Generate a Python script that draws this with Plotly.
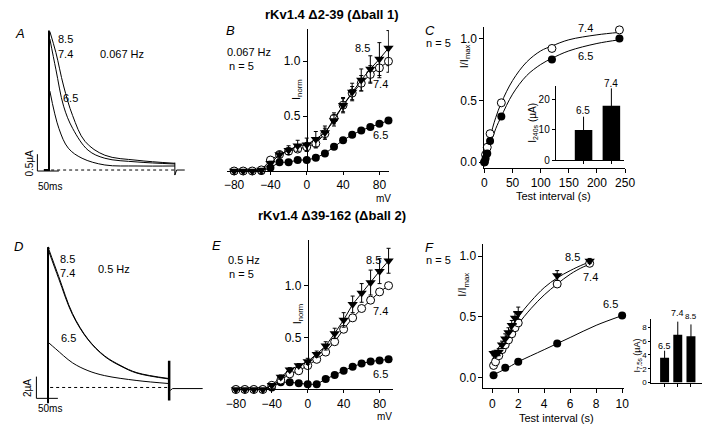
import plotly.graph_objects as go

W, H = 720, 434
FONT = "Liberation Sans, Arial, sans-serif"

# ---------------- data ----------------
# Panel A (0.067 Hz) current traces: time (ms), current (uA)
A_t_85 = [2, 16, 34, 55, 84, 130, 205, 293]
A_i_85 = [4.12, 3.5, 2.5, 1.62, 0.85, 0.44, 0.29, 0.2]
A_t_74 = [2, 16, 34, 55, 91, 130, 205, 293]
A_i_74 = [3.9, 3.0, 1.9, 1.24, 0.59, 0.35, 0.24, 0.18]
A_t_65 = [2, 23, 45, 77, 130, 205, 293]
A_i_65 = [2.35, 1.24, 0.65, 0.35, 0.15, 0.12, 0.12]
A_rise_t = [-12, 0, 0, 2]
A_rise_i = [0, 0, 4.12, 4.12]
A_tail_t = [293, 293, 297, 316]
A_tail_i = [0.22, -0.15, 0.0, 0.0]

# Panel D (0.5 Hz) current traces
D_t_85 = [2, 25, 57, 93, 132, 170, 207, 282]
D_i_85 = [12.7, 10.2, 6.8, 4.45, 2.9, 2.0, 1.36, 0.82]
D_t_74 = [2, 25, 57, 93, 132, 170, 207, 282]
D_i_74 = [12.5, 10.0, 6.7, 4.4, 2.85, 1.95, 1.32, 0.78]
D_t_65 = [2, 18, 57, 93, 132, 207, 282]
D_i_65 = [4.1, 3.55, 2.27, 1.55, 1.09, 0.64, 0.36]
D_rise_t = [0, 0, 2]
D_rise_i = [-1.45, 12.9, 12.7]
D_end_t = [282, 282]
D_end_i = [2.45, -1.2]
D_tail_t = [282, 285, 290, 360]
D_tail_i = [-0.2, -0.25, -0.1, -0.1]

# Panels B / E: I-V relations
mV = [-80, -70, -60, -50, -40, -30, -20, -10, 0, 10, 20, 30, 40, 50, 60, 70, 80, 90]
B_65 = [0, 0, 0, 0, 0.03, 0.08, 0.08, 0.1, 0.1, 0.12, 0.16, 0.22, 0.28, 0.33, 0.37, 0.4, 0.43, 0.46]
B_74 = [0, 0, 0, 0.01, 0.1, 0.15, 0.18, 0.2, 0.22, 0.25, 0.34, 0.48, 0.6, 0.71, 0.8, 0.88, 0.94, 1.0]
B_85 = [0, 0, 0, 0.01, 0.07, 0.15, 0.19, 0.23, 0.24, 0.29, 0.35, 0.46, 0.6, 0.72, 0.83, 0.93, 1.02, 1.12]
B_74_err = [0, 0, 0, 0, 0.02, 0.02, 0.03, 0.03, 0.04, 0.04, 0.05, 0.05, 0.06, 0.06, 0.07, 0.08, 0.09, 0.1]
B_85_err = [0, 0, 0, 0, 0.02, 0.03, 0.04, 0.05, 0.06, 0.07, 0.06, 0.05, 0.07, 0.08, 0.1, 0.12, 0.15, 0.16]

E_65 = [0, 0, 0, 0, 0.02, 0.07, 0.07, 0.06, 0.05, 0.05, 0.1, 0.14, 0.18, 0.22, 0.25, 0.27, 0.28, 0.29]
E_74 = [0, 0, 0, 0, 0.04, 0.09, 0.15, 0.18, 0.23, 0.29, 0.36, 0.46, 0.58, 0.69, 0.78, 0.86, 0.94, 1.0]
E_85 = [0, 0, 0, 0, 0.04, 0.12, 0.19, 0.23, 0.27, 0.34, 0.42, 0.54, 0.67, 0.82, 0.93, 1.03, 1.14, 1.24]
E_85_err = [0, 0, 0, 0, 0.01, 0.02, 0.02, 0.02, 0.03, 0.03, 0.04, 0.05, 0.07, 0.08, 0.09, 0.12, 0.12, 0.12]

# Panel C: recovery (s)
C_t = [0, 2, 5, 10, 30, 120, 240]
C_74 = [0.0, 0.06, 0.12, 0.23, 0.48, 0.92, 1.07]
C_65 = [0.0, 0.03, 0.07, 0.17, 0.37, 0.83, 1.0]
C_fit_t = [0, 10, 20, 30, 50, 75, 100, 120, 150, 200, 240]
C_fit_74 = [0, 0.2, 0.36, 0.48, 0.66, 0.81, 0.9, 0.94, 0.99, 1.03, 1.05]
C_fit_65 = [0, 0.14, 0.27, 0.37, 0.55, 0.7, 0.79, 0.84, 0.9, 0.96, 0.99]
C_bar_pos = [1, 2]
C_bar_lab = ["6.5", "7.4"]
C_bar_val = [10, 18]
C_bar_err = [4.4, 5.8]

# Panel F: recovery (s)
F_t = [0.1, 0.25, 0.5, 0.75, 1, 1.25, 1.5, 1.75, 2, 5, 7.5]
F_85 = [0.2, 0.19, 0.21, 0.27, 0.32, 0.37, 0.43, 0.49, 0.53, 0.84, 0.96]
F_85_err = [0.02, 0.02, 0.03, 0.03, 0.04, 0.04, 0.04, 0.05, 0.05, 0.04, 0.02]
F_74 = [0.1, 0.13, 0.18, 0.23, 0.27, 0.31, 0.36, 0.41, 0.45, 0.77, 0.94]
F_t_65 = [0.1, 1, 2, 5, 10]
F_65 = [0.02, 0.08, 0.13, 0.28, 0.51]
F_fit_t = [0, 0.5, 1, 1.5, 2, 3, 4, 5, 6, 7, 7.5]
F_fit_85 = [0.15, 0.24, 0.33, 0.42, 0.5, 0.63, 0.74, 0.82, 0.88, 0.93, 0.95]
F_fit_74 = [0.08, 0.18, 0.27, 0.36, 0.44, 0.57, 0.68, 0.77, 0.85, 0.91, 0.93]
F_fit65_t = [0, 1, 2, 4, 6, 8, 10]
F_fit_65 = [0.02, 0.07, 0.13, 0.23, 0.33, 0.43, 0.51]
F_bar_pos = [1, 2, 3]
F_bar_lab = ["6.5", "7.4", "8.5"]
F_bar_val = [3.6, 6.9, 6.7]
F_bar_err = [1.0, 1.9, 1.7]

# scale bars
A_SCALE_I, D_SCALE_I, SCALE_T = 0.5, 2.0, 50

# ---------------- helpers ----------------
def xd(p0, p1):
    return [p0 / W, p1 / W]

def yd(pb, pt):
    return [1 - pb / H, 1 - pt / H]

def xr(p0, p1, origin, ppu):
    return [(p0 - origin) / ppu, (p1 - origin) / ppu]

def yr(pb, pt, origin, ppu):
    return [(origin - pb) / ppu, (origin - pt) / ppu]

def ann(text, px, py, size=11, angle=0, **kw):
    d = dict(text=text, x=px / W, y=1 - py / H, xref="paper", yref="paper",
             showarrow=False, textangle=angle, xanchor="center", yanchor="middle",
             font=dict(family=FONT, size=size, color="black"))
    d.update(kw)
    return d

fig = go.Figure()
LW = 1

def line(x, y, ax, width=LW, shape="linear", dash="solid", color="black"):
    fig.add_trace(go.Scatter(x=x, y=y, mode="lines", xaxis="x" + ax, yaxis="y" + ax,
                             line=dict(color=color, width=width, shape=shape, dash=dash),
                             cliponaxis=False, hoverinfo="skip"))

FILLED = dict(symbol="circle", size=8, color="black")
OPEN = dict(symbol="circle", size=8, color="white", line=dict(color="black", width=1))
TRI = dict(symbol="triangle-down", size=9, color="black")

def pts(x, y, ax, marker, err=None, lines=True):
    kw = {}
    if err is not None:
        kw["error_y"] = dict(type="data", array=err, color="black", thickness=1, width=2)
    fig.add_trace(go.Scatter(x=x, y=y, mode="lines+markers" if lines else "markers",
                             xaxis="x" + ax, yaxis="y" + ax, marker=marker,
                             line=dict(color="black", width=LW), cliponaxis=False,
                             hoverinfo="skip", **kw))

# ---------- Panel A ----------
line(A_rise_t, A_rise_i, "", width=2)
line(A_t_85, A_i_85, "", shape="spline")
line(A_t_74, A_i_74, "", shape="spline")
line(A_t_65, A_i_65, "", shape="spline")
line(A_tail_t, A_tail_i, "")

# ---------- Panel D ----------
line(D_rise_t, D_rise_i, "5", width=2)
line(D_t_85, D_i_85, "5", shape="spline")
line(D_t_74, D_i_74, "5", shape="spline")
line(D_t_65, D_i_65, "5", shape="spline")
line(D_end_t, D_end_i, "5", width=2.5)
line(D_tail_t, D_tail_i, "5")

# ---------- Panel B ----------
pts(mV, B_65, "2", FILLED)
pts(mV, B_74, "2", OPEN, err=B_74_err)
pts(mV, B_85, "2", TRI, err=B_85_err)

# ---------- Panel E ----------
pts(mV, E_65, "6", FILLED)
pts(mV, E_74, "6", OPEN)
pts(mV, E_85, "6", TRI, err=E_85_err)

# ---------- Panel C ----------
line(C_fit_t, C_fit_74, "3", shape="spline")
line(C_fit_t, C_fit_65, "3", shape="spline")
pts(C_t, C_74, "3", OPEN, lines=False)
pts(C_t, C_65, "3", FILLED, lines=False)
fig.add_trace(go.Bar(x=C_bar_pos, y=C_bar_val, width=0.63, xaxis="x4", yaxis="y4",
                     marker=dict(color="black", line=dict(width=0)),
                     error_y=dict(type="data", array=C_bar_err, color="black", thickness=1, width=0)))

# ---------- Panel F ----------
line(F_fit_t, F_fit_85, "7", shape="spline")
line(F_fit_t, F_fit_74, "7", shape="spline")
line(F_fit65_t, F_fit_65, "7", shape="spline")
pts(F_t, F_74, "7", OPEN, lines=False)
pts(F_t_65, F_65, "7", FILLED, lines=False)
pts(F_t, F_85, "7", TRI, err=F_85_err, lines=False)
fig.add_trace(go.Bar(x=F_bar_pos, y=F_bar_val, width=0.68, xaxis="x8", yaxis="y8",
                     marker=dict(color="black", line=dict(width=0)),
                     error_y=dict(type="data", array=F_bar_err, color="black", thickness=1, width=0)))

# ---------------- axes ----------------
base = dict(showgrid=False, zeroline=False, showline=True, linecolor="black", linewidth=1,
            ticks="outside", ticklen=4, tickwidth=1, tickcolor="black",
            tickfont=dict(family=FONT, size=12, color="black"), fixedrange=True)
hidden = dict(visible=False, showgrid=False, zeroline=False, fixedrange=True)

lay = {}
# A
lay["xaxis"] = dict(hidden, domain=xd(15, 200), range=xr(15, 200, 43, 0.44), anchor="y")
lay["yaxis"] = dict(hidden, domain=yd(200, 22), range=yr(200, 22, 172, 34), anchor="x")
# D
lay["xaxis5"] = dict(hidden, domain=xd(15, 210), range=xr(15, 210, 42, 0.44), anchor="y5")
lay["yaxis5"] = dict(hidden, domain=yd(425, 235), range=yr(425, 235, 392, 11), anchor="x5")
# B
lay["xaxis2"] = dict(base, domain=xd(225, 391), range=xr(225, 391, 307, 0.93), anchor="y2",
                     tickvals=[-80, -40, 0, 40, 80], ticklen=3)
lay["yaxis2"] = dict(base, domain=yd(173, 29), range=yr(173, 29, 173, 111), anchor="free",
                     position=307 / W, tickvals=[0.5, 1.0], ticktext=["0.5", "1.0"])
# E
lay["xaxis6"] = dict(base, domain=xd(231, 395), range=xr(231, 395, 308, 0.92), anchor="y6",
                     tickvals=[-80, -40, 0, 40, 80], ticklen=3)
lay["yaxis6"] = dict(base, domain=yd(394, 243), range=yr(394, 243, 394, 105), anchor="free",
                     position=308 / W, tickvals=[0.5, 1.0], ticktext=["0.5", "1.0"])
# C
lay["xaxis3"] = dict(base, domain=xd(489, 633), range=xr(489, 633, 489, 0.576), anchor="y3",
                     tickvals=[0, 50, 100, 150, 200, 250])
lay["yaxis3"] = dict(base, domain=yd(170, 27), range=yr(170, 27, 164, 125), anchor="x3",
                     tickvals=[0, 0.5, 1.0], ticktext=["0.0", "0.5", "1.0"])
# C inset
lay["xaxis4"] = dict(base, domain=xd(562, 632), range=xr(562, 632, 590.5 - 28.5, 28.5),
                     anchor="y4", tickvals=C_bar_pos, showticklabels=False, ticklen=3)
lay["yaxis4"] = dict(base, domain=yd(162, 87), range=yr(162, 87, 162, 3.05), anchor="x4",
                     tickvals=[0, 10, 20], tickfont=dict(family=FONT, size=10, color="black"), ticklen=3)
# F
lay["xaxis7"] = dict(base, domain=xd(488, 632), range=xr(488, 632, 497, 13.3), anchor="y7",
                     tickvals=[0, 2, 4, 6, 8, 10])
lay["yaxis7"] = dict(base, domain=yd(393, 247), range=yr(393, 247, 382, 123), anchor="x7",
                     tickvals=[0, 0.5, 1.0], ticktext=["0.0", "0.5", "1.0"])
# F inset
lay["xaxis8"] = dict(base, domain=xd(660, 712), range=xr(660, 712, 673.5 - 13.5, 13.5),
                     anchor="y8", tickvals=F_bar_pos, showticklabels=False, ticklen=3)
lay["yaxis8"] = dict(base, domain=yd(387, 323), range=yr(387, 323, 387, 7), anchor="x8",
                     tickvals=[0, 2, 4, 6, 8], tickfont=dict(family=FONT, size=8, color="black"), ticklen=2)

# ---------------- scale bars & baselines ----------------
shapes = []
def seg(ax, x0, y0, x1, y1, width=1, dash="solid"):
    shapes.append(dict(type="line", xref="x" + ax, yref="y" + ax, x0=x0, y0=y0, x1=x1, y1=y1,
                       line=dict(color="black", width=width, dash=dash)))

# A scale bar and dotted zero line
seg("", -27, -0.03, -27, -0.03 + A_SCALE_I)
seg("", -27, -0.03, -27 + SCALE_T, -0.03)
seg("", 5, 0, 293, 0, dash="dot")
# D scale bar and dotted zero line
seg("5", -27, -1.0, -27, -1.0 + D_SCALE_I)
seg("5", -27, -1.0, -27 + SCALE_T, -1.0)
seg("5", 5, 0, 282, 0, dash="dot")

# ---------------- text ----------------
anns = []
B = lambda t: "<b>" + t + "</b>"
I_ = lambda t: "<i>" + t + "</i>"
anns.append(ann(B("rKv1.4 Δ2-39 (Δball 1)"), 333, 15, size=13))
anns.append(ann(B("rKv1.4 Δ39-162 (Δball 2)"), 333, 218, size=13))
for lab, px, py in [("A", 13, 34), ("B", 229, 31), ("C", 433, 31),
                    ("D", 12, 249), ("E", 215, 248), ("F", 433, 250)]:
    anns.append(ann(I_(lab), px, py, size=13))
# A
anns += [ann("8.5", 60, 39), ann("7.4", 60, 55), ann("0.067 Hz", 118, 55), ann("6.5", 65, 99),
         ann("0.5µA", 23, 165, size=10, angle=-90), ann("50ms", 44, 189, size=10)]
# D
anns += [ann("8.5", 62, 262), ann("7.4", 62, 276), ann("0.5 Hz", 110, 272), ann("6.5", 63, 342),
         ann("2µA", 21, 393, size=10, angle=-90), ann("50ms", 44, 413, size=10)]
# B
anns += [ann("0.067 Hz", 248, 53), ann("n = 5", 240, 67), ann("8.5", 364, 49),
         ann("7.4", 383, 85), ann("6.5", 383, 137),
         ann("I<sub>norm</sub>", 297, 90, angle=-90), ann("mV", 386, 201, size=10)]
# E
anns += [ann("0.5 Hz", 243, 263), ann("n = 5", 240, 277), ann("8.5", 375, 263),
         ann("7.4", 383, 315), ann("6.5", 383, 378),
         ann("I<sub>norm</sub>", 298, 317, angle=-90), ann("mV", 387, 421, size=10)]
# C
anns += [ann("n = 5", 442, 43), ann("7.4", 593, 28), ann("6.5", 593, 57),
         ann("I/I<sub>max</sub>", 469, 57, angle=-90), ann("Test interval (s)", 560, 198),
         ann(C_bar_lab[0], 590, 112, size=10), ann(C_bar_lab[1], 619, 84, size=10),
         ann("I<sub>240s</sub> (µA)", 538, 124, size=10, angle=-90)]
# F
anns += [ann("n = 5", 442, 263), ann("8.5", 579, 260), ann("7.4", 598, 280), ann("6.5", 618, 308),
         ann("I/I<sub>max</sub>", 467, 288, angle=-90), ann("Test interval (s)", 563, 423),
         ann(F_bar_lab[0], 673, 350, size=9), ann(F_bar_lab[1], 687, 317, size=9),
         ann(F_bar_lab[2], 701, 320, size=8),
         ann("I<sub>7.5s</sub> (µA)", 646, 360, size=9, angle=-90)]

fig.update_layout(width=W, height=H, margin=dict(l=0, r=0, t=0, b=0),
                  paper_bgcolor="white", plot_bgcolor="rgba(0,0,0,0)", showlegend=False,
                  font=dict(family=FONT, size=11, color="black"),
                  shapes=shapes, annotations=anns, **lay)
fig.write_html("out.html", config={"displayModeBar": False, "staticPlot": True},
               post_script="document.body.style.margin='0';document.body.style.overflow='hidden';")
